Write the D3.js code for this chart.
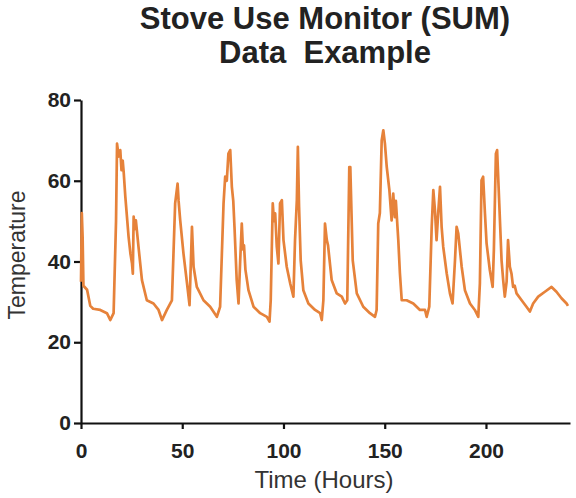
<!DOCTYPE html>
<html>
<head>
<meta charset="utf-8">
<script src="https://cdn.jsdelivr.net/npm/d3@7"></script>
<style>
  body { margin: 0; background: #fff; }
  text { font-family: "Liberation Sans", Arial, sans-serif; }
</style>
</head>
<body>
<svg class="face" width="576" height="498"></svg>
<script>
const svg = d3.select('.face')
const width = +svg.attr('width')
const height = +svg.attr('height')

// hours / temperature
const hours = [0,0.4,0.8,1.2,3,4.6,6,9.5,12.8,14.5,16.1,17.3,17.8,18.6,19.4,20,20.6,21.1,21.9,23.5,24.4,25.2,25.6,26,26.6,27.1,28.4,30.1,32.5,35.8,38.3,40,42.4,44.9,46.5,47.7,48.2,49,50.6,52.5,53.6,54.8,55.6,57.2,60.5,63.8,67.1,68.7,70.4,71.2,72,72.8,73.7,74.5,75.2,75.8,76.9,77.8,78.6,79.4,80,80.5,81.2,82.7,85.2,88.5,91.8,93.1,93.7,94.7,95.3,95.9,96.7,97.5,98.3,99.2,100,101.6,103.3,104.9,105.7,106.6,107.1,107.7,108.5,109.8,112.3,115.6,118.1,118.9,119.7,120.5,121.4,122,123.8,126.3,128.8,130.4,131.5,132.5,133,134.2,136.2,139.4,142.7,145.2,146,146.8,147.6,148.5,149.3,150.1,151,152.3,153.4,154.2,155,155.5,156.7,157.5,158.4,160.8,164.1,167.4,169.9,170.7,172,173.2,174,174.8,175.6,176.4,177.3,178.1,178.9,180.6,182.2,183.5,184.7,185.5,186.3,188,189.6,192.1,194.5,196.2,197,197.8,198.6,199.5,200.3,201.9,203.3,203.9,204.9,205.5,206.5,207.7,208.5,209.3,210.2,210.9,211.8,212.6,213.4,214.2,215.1,217.6,220,221.7,223.3,225.8,229.1,232.4,234.8,237.3,239.8,240.5]
const temps = [35,52,46,34,33,29,28.3,28,27.2,25.5,27.2,50,69.2,66,67.6,62.6,65,62,56,46.1,42,39.5,37,51.1,48,50.2,43.6,35.4,30.4,29.6,28,25.5,28,30.4,54.4,59.3,55,50.2,42,34,29.2,48.6,38.7,33.7,30.4,28.8,26.3,28.8,54.4,61,60,66.7,67.6,58.5,55,48.6,35.4,29.6,40,49.4,43,44,38,32.9,28.8,27.2,26.3,25.1,30.4,54.4,50,51.9,43.6,39.5,54.4,55.2,45.3,38.7,34.6,31.3,45.3,55.2,68.4,53.5,40.3,32.9,29.6,28,27.2,25.5,30.4,49.4,45.3,44,35.4,32.1,31.3,29.6,30.4,63.4,63.4,40.3,32.1,28.8,27.2,26.3,28,49.4,52,70,72.5,69.2,63.4,57.7,50.2,56.8,51,55,45.3,37.1,30.4,30.4,29.6,28,28,26.3,28.8,48.6,57.7,52.7,45.3,51.9,58.5,48.6,43.6,37.1,32.1,29.6,40.3,48.6,47,38.7,32.9,29.6,28,26.3,34.6,60.1,61,51.9,44.5,37.9,33.7,42.8,66.7,67.6,55.2,40.3,35.4,31.3,35,45.3,38.7,37,33.7,34,32.1,30.4,28.8,27.6,29.6,31.3,32.5,33.7,32.5,30.9,29.6,29]

const xTicks = [0,50,100,150,200]
const yTicks = [0,20,40,60,80]
const titleLines = ['Stove Use Monitor (SUM)', 'Data  Example']

const data = hours.map((h,i)=>({h:h, t:temps[i]}))

const xScale = d3.scaleLinear()
  .domain([0,241.5])
  .range([81,570])

const yScale = d3.scaleLinear()
  .domain([0,80])
  .range([423,100])

svg.append('g')
  .attr('transform',`translate(0,${yScale(0)})`)
  .call(d3.axisBottom(xScale).tickValues(xTicks).tickSize(6).tickSizeOuter(0).tickPadding(14))

svg.append('g')
  .attr('transform',`translate(${xScale(0)},0)`)
  .call(d3.axisLeft(yScale).tickValues(yTicks).tickSize(7).tickSizeOuter(0).tickPadding(3))

svg.selectAll('.domain, .tick line')
  .attr('stroke','#111')
  .attr('stroke-width',2.2)

svg.selectAll('.tick text')
  .attr('fill','#222')
  .style('font-size','21px')
  .style('font-weight','bold')

const line = d3.line()
  .x(d=>xScale(d.h))
  .y(d=>yScale(d.t))

svg.append('path')
  .datum(data)
  .attr('d',line)
  .attr('fill','none')
  .attr('stroke','#e6823a')
  .attr('stroke-width',2.7)
  .attr('stroke-linejoin','round')

svg.selectAll('.title')
  .data(titleLines)
  .enter()
  .append('text')
  .attr('class','title')
  .attr('x',325)
  .attr('y',(d,i)=>29+i*34)
  .attr('text-anchor','middle')
  .style('font-size','31px')
  .style('font-weight','bold')
  .style('white-space','pre')
  .attr('fill','#222')
  .text(d=>d)

svg.append('text')
  .attr('x',324)
  .attr('y',488)
  .attr('text-anchor','middle')
  .style('font-size','24px')
  .attr('fill','#333')
  .text('Time (Hours)')

svg.append('text')
  .attr('transform','translate(25,255) rotate(-90)')
  .attr('text-anchor','middle')
  .style('font-size','23px')
  .attr('fill','#333')
  .text('Temperature')
</script>
</body>
</html>
